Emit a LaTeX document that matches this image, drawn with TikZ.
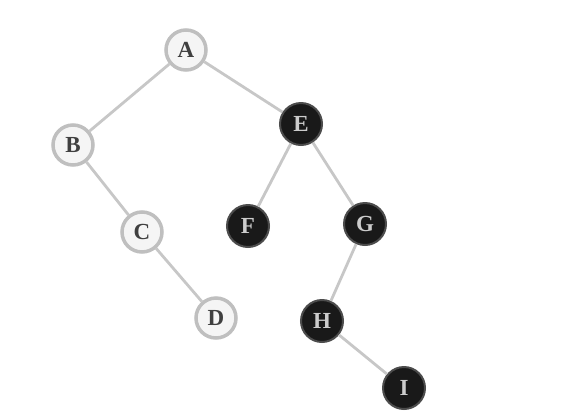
\documentclass[tikz,border=0pt]{standalone}
\usepackage{fontspec}
\setmainfont{Liberation Serif}
\begin{document}
\begin{tikzpicture}[x=1pt,y=-1pt,
  edge/.style={draw=black!22,line width=2.8pt},
  lightnode/.style={circle,minimum size=40pt,inner sep=0pt,fill=black!4,draw=black!25,line width=3.5pt,text=black!75,font=\bfseries\fontsize{23}{23}\selectfont},
  darknode/.style={circle,minimum size=42pt,inner sep=0pt,fill=black!90,draw=black!70,line width=2pt,text=black!20,font=\bfseries\fontsize{23}{23}\selectfont}]
\useasboundingbox (0,0) rectangle (573,416);
\node[lightnode] (A) at (186,50) {A};
\node[lightnode] (B) at (73,145) {B};
\node[lightnode] (C) at (142,232) {C};
\node[lightnode] (D) at (216,318) {D};
\node[darknode] (E) at (301,124) {E};
\node[darknode] (F) at (248,226) {F};
\node[darknode] (G) at (365,224) {G};
\node[darknode] (H) at (322,321) {H};
\node[darknode] (I) at (404,388) {I};
\draw[edge] (A) -- (B);
\draw[edge] (A) -- (E);
\draw[edge] (B) -- (C);
\draw[edge] (C) -- (D);
\draw[edge] (E) -- (F);
\draw[edge] (E) -- (G);
\draw[edge] (G) -- (H);
\draw[edge] (H) -- (I);
\end{tikzpicture}
\end{document}
